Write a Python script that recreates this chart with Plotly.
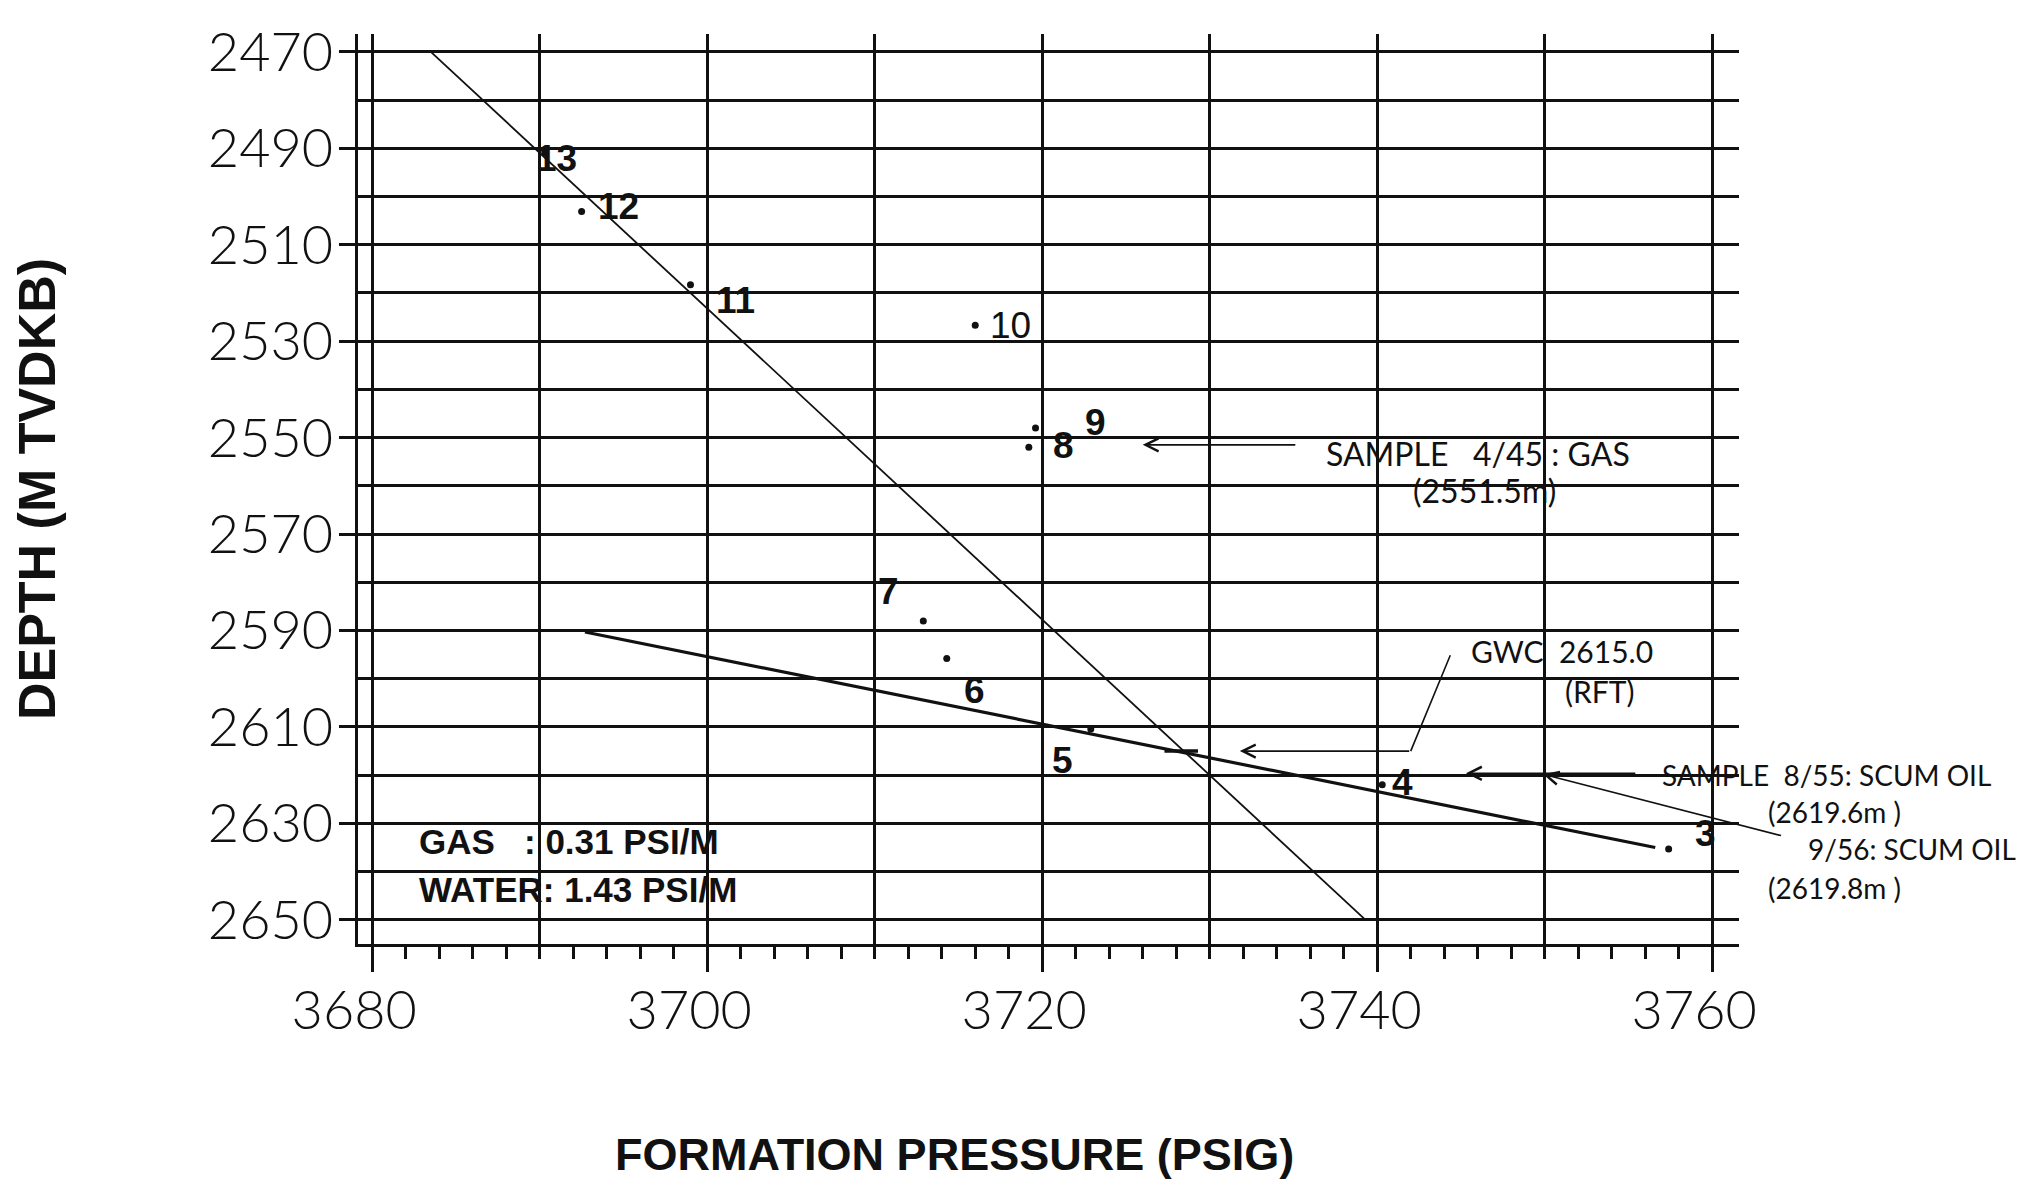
import plotly.graph_objects as go

# RFT pretest stations: formation pressure (psig) vs depth (m TVDKB)
station_ids = ["3", "4", "5", "6", "7", "8", "9", "10", "11", "12", "13"]
pressure_psig = [3757.4, 3740.3, 3722.9, 3714.3, 3712.9, 3719.2, 3719.6, 3716.0, 3699.0, 3692.5, 3690.3]
depth_m = [2635.3, 2622.0, 2610.4, 2595.8, 2588.0, 2552.0, 2548.0, 2526.7, 2518.3, 2503.1, 2491.0]

# fitted gradient lines (end points)
gas_line_p = [3683.5, 3739.3]
gas_line_d = [2470.0, 2650.0]
water_line_p = [3692.7, 3756.6]
water_line_d = [2590.3, 2635.0]

# gas-water contact mark where the two gradients cross
gwc_depth = 2615.0
gwc_mark_p = [3727.3, 3729.3]

# sample depths called out on the plot
sample_gas_depth = 2551.5
sample_oil_depths = [2619.6, 2619.8]

# axis ticks
x_tick_vals = [3680, 3700, 3720, 3740, 3760]
x_mid_vals = [3690, 3710, 3730, 3750]
y_tick_vals = [2470, 2490, 2510, 2530, 2550, 2570, 2590, 2610, 2630, 2650]

X_RANGE = [3679.15, 3761.6]
Y_RANGE = [2655.0, 2466.3]

THIN = "Lato, Roboto, Open Sans, DejaVu Sans, sans-serif"
BOLD_SANS = "Liberation Sans, Arial, Helvetica, sans-serif"
INK = "#111111"


def paper_x(p):
    """Pressure value -> paper fraction, for notes that sit right of the grid."""
    return (p - X_RANGE[0]) / (X_RANGE[1] - X_RANGE[0])


fig = go.Figure()

fig.add_trace(go.Scatter(
    x=gas_line_p, y=gas_line_d, mode="lines",
    line=dict(color=INK, width=1.8), hoverinfo="skip", showlegend=False))
fig.add_trace(go.Scatter(
    x=water_line_p, y=water_line_d, mode="lines",
    line=dict(color=INK, width=3.2), hoverinfo="skip", showlegend=False))
fig.add_trace(go.Scatter(
    x=gwc_mark_p, y=[gwc_depth, gwc_depth], mode="lines",
    line=dict(color=INK, width=3.5), hoverinfo="skip", showlegend=False))
fig.add_trace(go.Scatter(
    x=pressure_psig, y=depth_m, mode="markers",
    marker=dict(size=7, color=INK), text=station_ids,
    hovertemplate="Station %{text}<br>%{x} psig<br>%{y} m<extra></extra>",
    showlegend=False))
# carrier trace for the overlay axis that draws the 10-psi grid
fig.add_trace(go.Scatter(
    x=[x_tick_vals[0]], y=[y_tick_vals[0]], xaxis="x2", mode="markers",
    marker=dict(size=1, opacity=0), hoverinfo="skip", showlegend=False))

# station number labels: pixel offsets from each point
label_shift = {
    "3": (37, 16), "4": (20, 2), "5": (-28, -32), "6": (28, -32),
    "7": (-35, 29), "8": (35, 2), "9": (60, 6), "10": (35, 0),
    "11": (45, -16), "12": (37, 5), "13": (12, -5),
}
annotations = []
for sid, p, d in zip(station_ids, pressure_psig, depth_m):
    dx, dy = label_shift[sid]
    annotations.append(dict(
        x=p, y=d, xref="x", yref="y", text=sid, showarrow=False,
        xshift=dx, yshift=dy,
        font=dict(family=BOLD_SANS, size=37, color=INK,
                  weight="normal" if sid == "10" else "bold")))

# gradient legend
annotations.append(dict(
    x=3682.7, y=2633.7, xref="x", yref="y", xanchor="left", yanchor="middle",
    text="GAS\u00a0\u00a0\u00a0: 0.31 PSI/M", showarrow=False,
    font=dict(family=BOLD_SANS, size=35, color=INK, weight="bold")))
annotations.append(dict(
    x=3682.7, y=2643.7, xref="x", yref="y", xanchor="left", yanchor="middle",
    text="WATER: 1.43 PSI/M", showarrow=False,
    font=dict(family=BOLD_SANS, size=35, color=INK, weight="bold")))

# hand-lettered notes: text, pressure, depth, font size
notes = [
    ("SAMPLE\u00a0\u00a0\u00a04/45 : GAS", 3736.8, 2553.2, 32),
    ("(2551.5m)", 3742.0, 2561.0, 32),
    ("GWC\u00a0\u00a02615.0", 3745.5, 2594.3, 30),
    ("(RFT)", 3751.1, 2602.5, 30),
    ("SAMPLE\u00a0\u00a08/55: SCUM OIL", 3756.9, 2619.9, 28),
    ("(2619.6m\u00a0)", 3763.2, 2627.6, 28),
    ("9/56: SCUM OIL", 3765.6, 2635.4, 28),
    ("(2619.8m\u00a0)", 3763.2, 2643.4, 28),
]
for txt, px, dy, fs in notes:
    annotations.append(dict(
        x=paper_x(px), y=dy, xref="paper", yref="y", xanchor="left", yanchor="middle",
        text=txt, showarrow=False,
        font=dict(family=THIN, size=fs, color=INK, weight=400)))

arrow_style = dict(showarrow=True, arrowhead=5, arrowsize=1.6, arrowwidth=1.6,
                   arrowcolor=INK, xref="x", yref="y", axref="x", ayref="y",
                   text="", standoff=0, startstandoff=0)
# sample 4/45 (gas)
annotations.append(dict(x=3726.0, y=sample_gas_depth, ax=3735.2, ay=sample_gas_depth, **arrow_style))
# GWC leader: diagonal stroke then arrow
annotations.append(dict(x=3742.0, y=gwc_depth, ax=3744.4, ay=2594.8,
                        **{**arrow_style, "arrowhead": 0}))
annotations.append(dict(x=3731.8, y=gwc_depth, ax=3742.0, ay=gwc_depth, **arrow_style))
# samples 8/55 and 9/56 (scum oil)
annotations.append(dict(x=3745.3, y=sample_oil_depths[0], ax=3755.5, ay=sample_oil_depths[0], **arrow_style))
annotations.append(dict(x=3749.9, y=sample_oil_depths[1], ax=3764.2, ay=2632.6, **arrow_style))

# x-axis title, set a little left of the grid centre
annotations.append(dict(
    x=0.432, y=-0.231, xref="paper", yref="paper", xanchor="center", yanchor="middle",
    text="<b>FORMATION PRESSURE (PSIG)</b>", showarrow=False,
    font=dict(family=BOLD_SANS, size=45, color=INK)))

fig.update_layout(
    width=2040, height=1195,
    margin=dict(l=358, r=301, t=34, b=251),
    paper_bgcolor="white", plot_bgcolor="white",
    annotations=annotations,
    xaxis=dict(
        range=X_RANGE, tickmode="array", tickvals=x_tick_vals,
        ticktext=[str(v) for v in x_tick_vals],
        ticks="outside", ticklen=25, tickwidth=3, tickcolor=INK,
        minor=dict(tickmode="linear", tick0=3680, dtick=2, ticks="outside",
                   ticklen=12, tickwidth=2.5, tickcolor=INK, showgrid=False),
        showgrid=True, gridcolor=INK, gridwidth=2.6,
        showline=True, linecolor=INK, linewidth=3.2, zeroline=False,
        tickfont=dict(family=THIN, size=54, color=INK, weight=300),
        ticklabelstandoff=-8, ticklabelshift=-18, automargin=False,
    ),
    xaxis2=dict(
        overlaying="x", anchor="y", side="bottom", range=X_RANGE,
        tickmode="array", tickvals=x_mid_vals, showticklabels=False, ticks="",
        showgrid=True, gridcolor=INK, gridwidth=2.6, zeroline=False,
        showline=False, automargin=False,
    ),
    yaxis=dict(
        range=Y_RANGE, tickmode="array", tickvals=y_tick_vals,
        ticktext=[str(v) for v in y_tick_vals],
        ticks="outside", ticklen=16, tickwidth=2.6, tickcolor=INK,
        minor=dict(tickmode="linear", tick0=2470, dtick=10, ticks="",
                   showgrid=True, gridcolor=INK, gridwidth=2.6),
        showgrid=True, gridcolor=INK, gridwidth=2.6,
        showline=True, linecolor=INK, linewidth=3.2, zeroline=False,
        tickfont=dict(family=THIN, size=54, color=INK, weight=300),
        ticklabelstandoff=-5, automargin=False,
        title=dict(text="<b>DEPTH (M TVDKB)</b>", standoff=136,
                   font=dict(family=BOLD_SANS, size=52, color=INK)),
    ),
)

fig.write_html("out.html", include_plotlyjs=True, config={"displayModeBar": False})
